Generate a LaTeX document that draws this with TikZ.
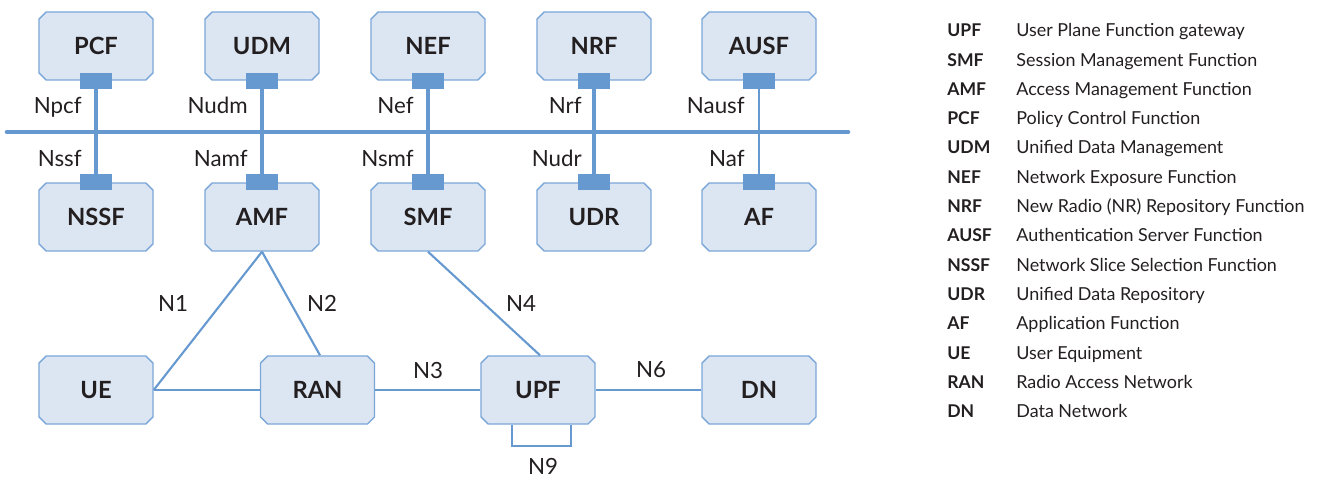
\documentclass[tikz,border=0pt]{standalone}
\usepackage{fontspec}
\setmainfont{Lato}
\usepackage{tikz}
\usetikzlibrary{shapes.misc,calc}
\definecolor{nfill}{RGB}{220,230,243}
\definecolor{nline}{RGB}{122,166,216}
\definecolor{nblue}{RGB}{102,153,208}
\definecolor{ntext}{RGB}{35,31,32}
\tikzset{
  nf/.style    ={chamfered rectangle, chamfered rectangle xsep=0.07cm,
                 chamfered rectangle ysep=0.07cm, draw=nline, line width=0.8pt,
                 fill=nfill, minimum width=2.28cm, minimum height=1.36cm,
                 inner sep=0pt, text=ntext, font=\fontsize{13.5}{16}\selectfont\bfseries},
  port/.style  ={rectangle, fill=nblue, inner sep=0pt,
                 minimum width=0.64cm, minimum height=0.32cm},
  bus/.style   ={draw=nblue, line width=2.6pt},
  sbi/.style   ={draw=nblue, line width=1.5pt},
  link/.style  ={draw=nblue, line width=1.2pt},
  lbl/.style   ={text=ntext, inner sep=0pt, font=\fontsize{12.7}{15}\selectfont},
  abbr/.style  ={text=ntext, inner sep=0pt, anchor=base west,
                 font=\fontsize{10}{12}\selectfont\bfseries},
  desc/.style  ={text=ntext, inner sep=0pt, anchor=base west,
                 font=\fontsize{10.2}{12}\selectfont}
}
\begin{document}
\begin{tikzpicture}[x=0.02cm, y=-0.02cm]
\useasboundingbox (0,0) rectangle (1328,477);

% control plane functions
\node[nf] (pcf)  at (96,46)  {PCF};
\node[nf] (udm)  at (262,46) {UDM};
\node[nf] (nef)  at (428,46) {NEF};
\node[nf] (nrf)  at (594,46) {NRF};
\node[nf] (ausf) at (759,46) {AUSF};

\node[nf] (nssf) at (96,217)  {NSSF};
\node[nf] (amf)  at (262,217) {AMF};
\node[nf] (smf)  at (428,217) {SMF};
\node[nf] (udr)  at (594,217) {UDR};
\node[nf] (af)   at (759,217) {AF};

% user plane
\node[nf] (ue)  at (96,390)    {UE};
\node[nf] (ran) at (317.5,390) {RAN};
\node[nf] (upf) at (538,390)   {UPF};
\node[nf] (dn)  at (759,390)   {DN};

% service based bus
\coordinate (busL) at (7,132);
\coordinate (busR) at (848,132);
\draw[bus, line cap=round] (busL) -- (busR);

\node[port] (pcfp)  at (pcf.south)  {};
\node[port] (udmp)  at (udm.south)  {};
\node[port] (nefp)  at (nef.south)  {};
\node[port] (nrfp)  at (nrf.south)  {};
\node[port] (ausfp) at (ausf.south) {};
\node[port] (nssfp) at (nssf.north) {};
\node[port] (amfp)  at (amf.north)  {};
\node[port] (smfp)  at (smf.north)  {};
\node[port] (udrp)  at (udr.north)  {};
\node[port] (afp)   at (af.north)   {};

\draw[bus] (pcfp) -- (nssfp);
\draw[bus] (udmp) -- (amfp);
\draw[bus] (nefp) -- (smfp);
\draw[bus] (nrfp) -- (udrp);
\draw[sbi] (ausfp) -- (afp);

\node[lbl, anchor=base east] (npcf)  at (82,113)  {Npcf};
\node[lbl, anchor=base east] (nudm)  at (248,113) {Nudm};
\node[lbl, anchor=base east] (nnef)  at (414,113) {Nef};
\node[lbl, anchor=base east] (nnrf)  at (582,113) {Nrf};
\node[lbl, anchor=base east] (nausf) at (745,113) {Nausf};
\node[lbl, anchor=base east] (nnssf) at (82,166)  {Nssf};
\node[lbl, anchor=base east] (namf)  at (248,166) {Namf};
\node[lbl, anchor=base east] (nsmf)  at (414,166) {Nsmf};
\node[lbl, anchor=base east] (nudr)  at (582,166) {Nudr};
\node[lbl, anchor=base east] (naf)   at (745,166) {Naf};

% reference points
\draw[link] (amf.south) -- (ue.east);
\draw[link] (amf.south) -- ($(ran.north)+(2.5,0)$);
\draw[link] (ue.east) -- (ran.west);
\draw[link] (ran.east) -- (upf.west);
\draw[link] (smf.south) -- ($(upf.north)+(2,0)$);
\draw[link] (upf.east) -- (dn.west);
\draw[link] ($(upf.south)+(-26,0)$) -- ++(0,21) -| ($(upf.south)+(33,0)$);

\node[lbl] (n1) at (173,303) {N1};
\node[lbl] (n2) at (322,303) {N2};
\node[lbl] (n3) at (428,370) {N3};
\node[lbl] (n4) at (521,303) {N4};
\node[lbl] (n6) at (651,370) {N6};
\node[lbl] (n9) at (543,466) {N9};

% legend
\node[abbr] (lupf)  at (947,36.7)  {UPF};
\node[desc] (dupf)  at (1016,36.7) {User Plane Function gateway};
\node[abbr] (lsmf)  at (947,66)    {SMF};
\node[desc] (dsmf)  at (1016,66)   {Session Management Function};
\node[abbr] (lamf)  at (947,95.3)  {AMF};
\node[desc] (damf)  at (1016,95.3) {Access Management Function};
\node[abbr] (lpcf)  at (947,124.6) {PCF};
\node[desc] (dpcf)  at (1016,124.6){Policy Control Function};
\node[abbr] (ludm)  at (947,153.9) {UDM};
\node[desc] (dudm)  at (1016,153.9){Unified Data Management};
\node[abbr] (lnef)  at (947,183.2) {NEF};
\node[desc] (dnef)  at (1016,183.2){Network Exposure Function};
\node[abbr] (lnrf)  at (947,212.5) {NRF};
\node[desc] (dnrf)  at (1016,212.5){New Radio (NR) Repository Function};
\node[abbr] (lausf) at (947,241.8) {AUSF};
\node[desc] (dausf) at (1016,241.8){Authentication Server Function};
\node[abbr] (lnssf) at (947,271.1) {NSSF};
\node[desc] (dnssf) at (1016,271.1){Network Slice Selection Function};
\node[abbr] (ludr)  at (947,300.4) {UDR};
\node[desc] (dudr)  at (1016,300.4){Unified Data Repository};
\node[abbr] (laf)   at (947,329.7) {AF};
\node[desc] (daf)   at (1016,329.7){Application Function};
\node[abbr] (lue)   at (947,359)   {UE};
\node[desc] (due)   at (1016,359)  {User Equipment};
\node[abbr] (lran)  at (947,388.3) {RAN};
\node[desc] (dran)  at (1016,388.3){Radio Access Network};
\node[abbr] (ldn)   at (947,417.6) {DN};
\node[desc] (ddn)   at (1016,417.6){Data Network};
\end{tikzpicture}
\end{document}
